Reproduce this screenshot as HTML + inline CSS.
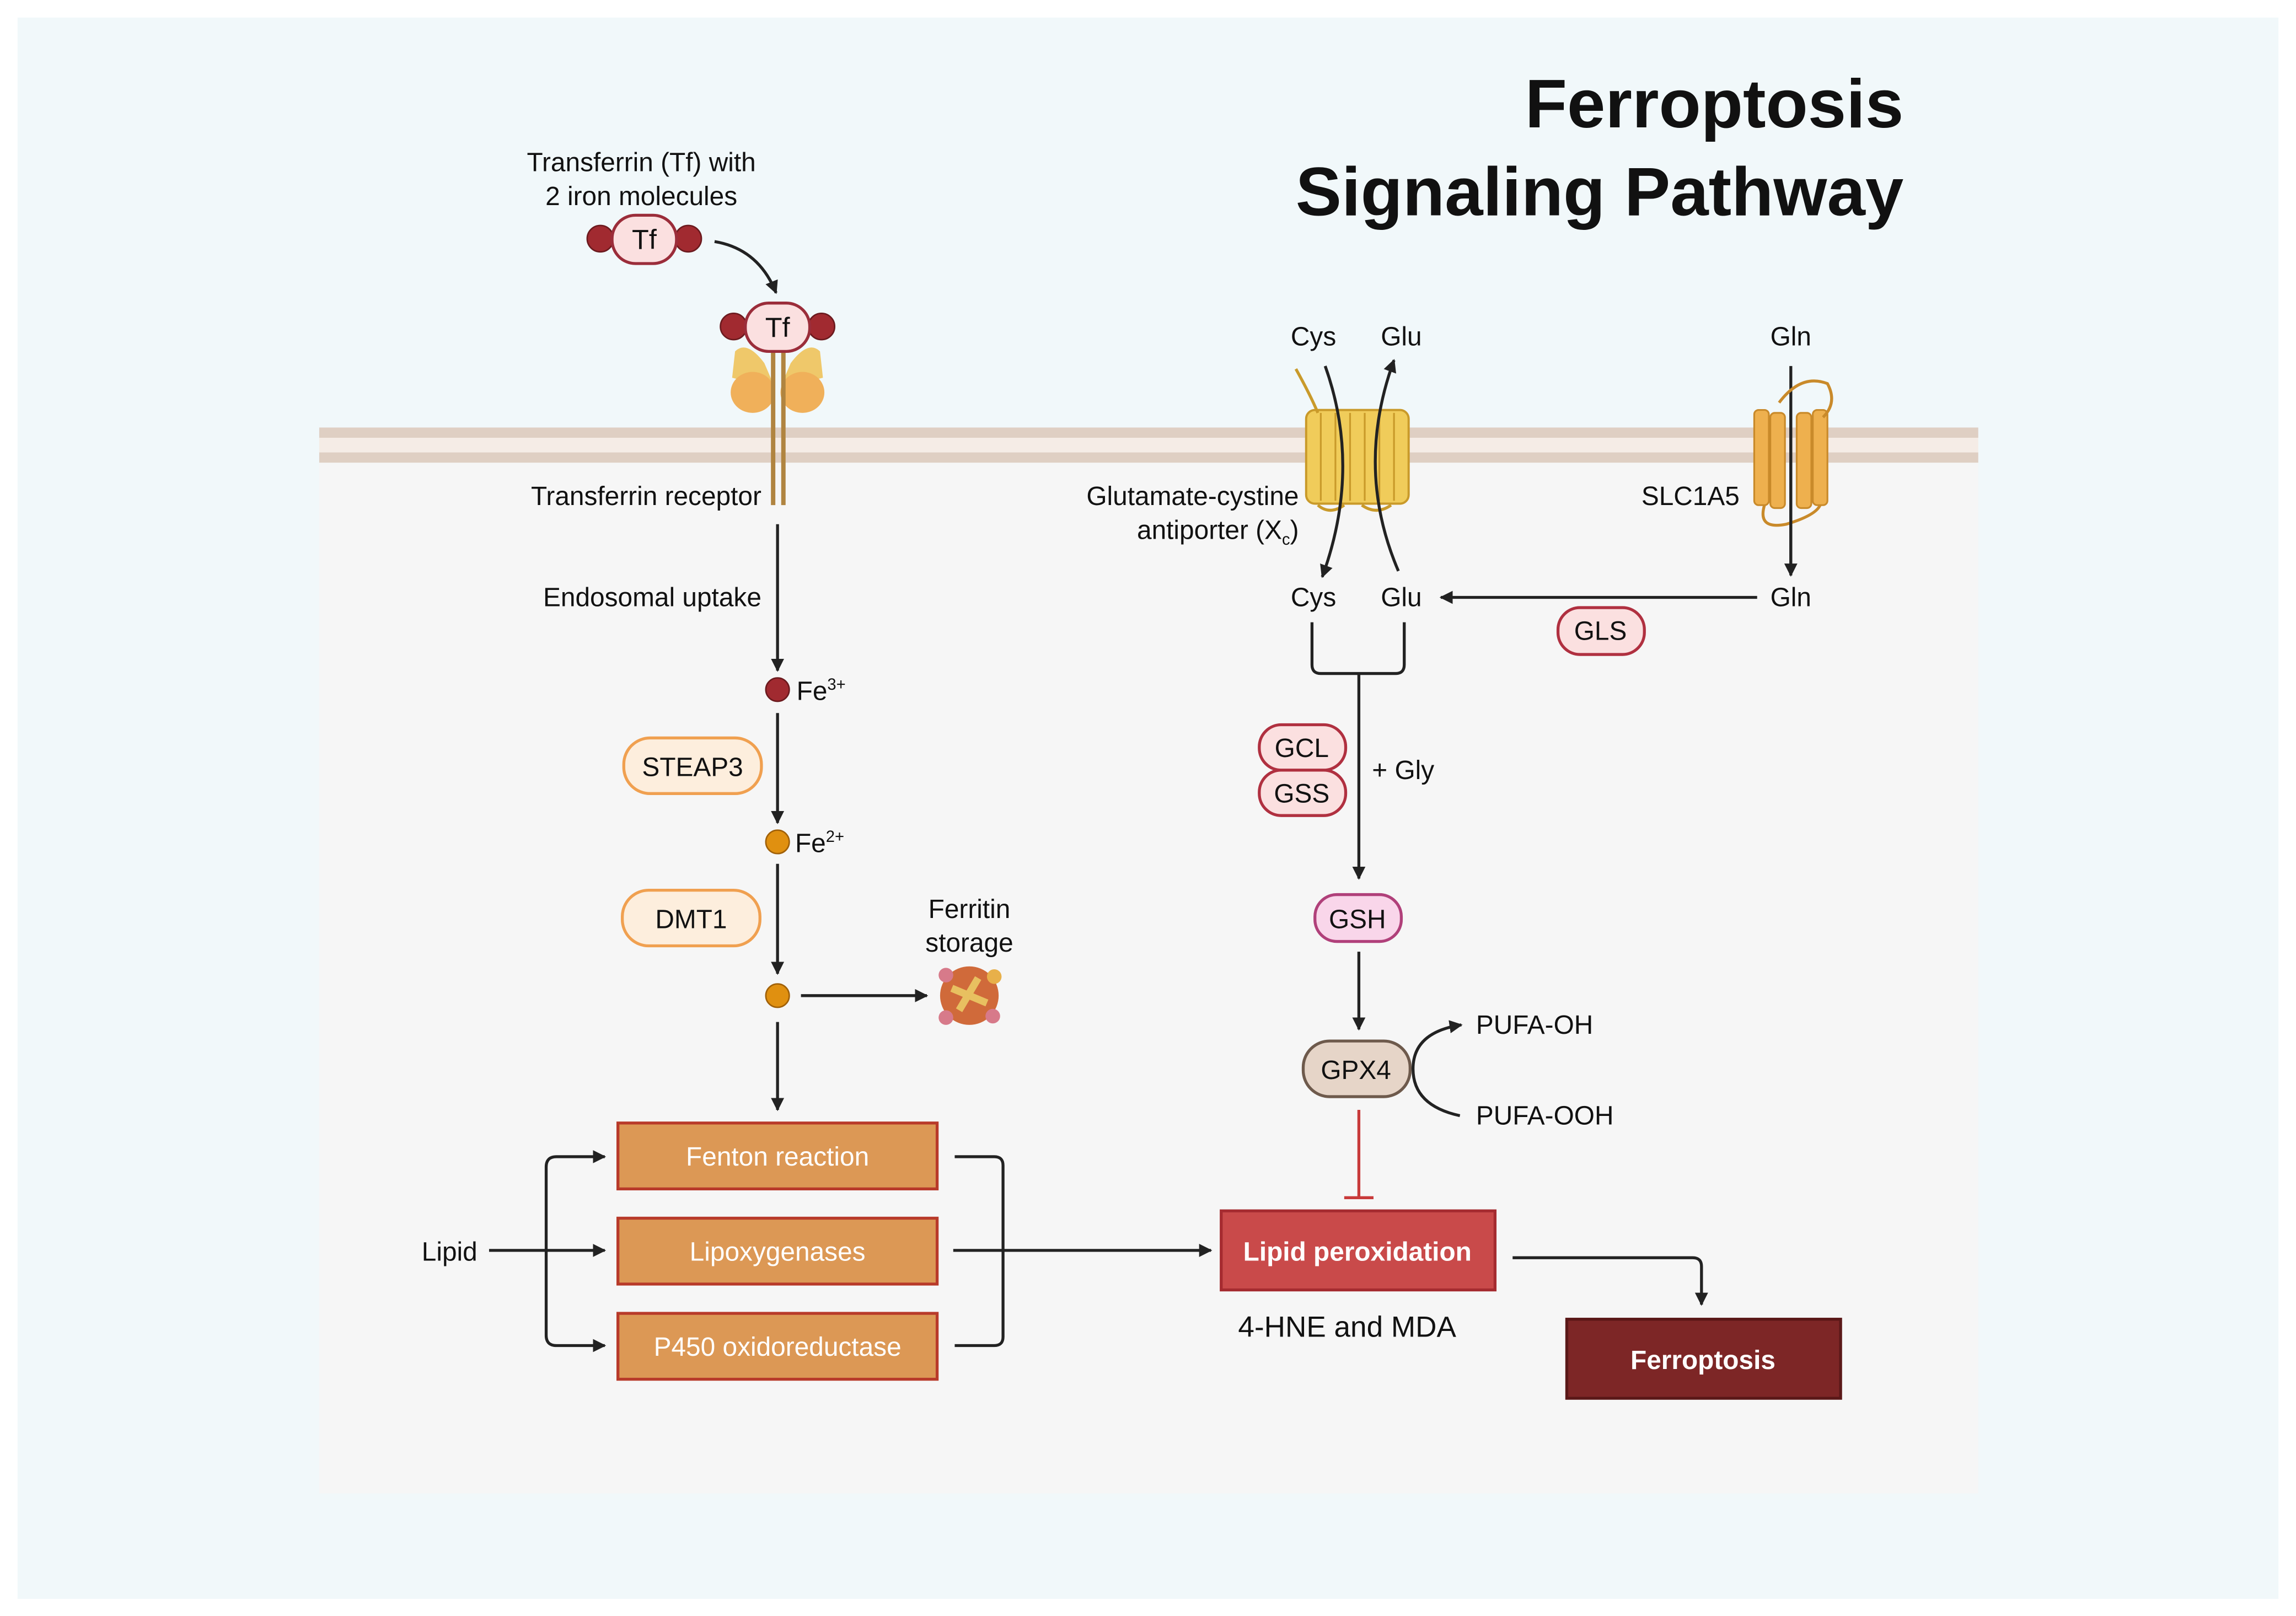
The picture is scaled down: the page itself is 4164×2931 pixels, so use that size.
<!DOCTYPE html>
<html><head><meta charset="utf-8"><style>
html,body{margin:0;padding:0;background:#fff}
svg{display:block}
text{font-family:"Liberation Sans",sans-serif;fill:#111}
text.w{fill:#fff}
</style></head><body>
<svg width="4164" height="2931" viewBox="0 0 1568 1103.7" preserveAspectRatio="none" xmlns="http://www.w3.org/2000/svg">
<defs>
<marker id="ah" viewBox="0 0 10 10" refX="9" refY="5" markerWidth="4.5" markerHeight="4.5" orient="auto"><path d="M0,0 L10,5 L0,10 Z" fill="#222"/></marker>
</defs>
<rect width="1568" height="1104" fill="#fff"/>
<rect x="12" y="12" width="1544" height="1080" fill="#f1f8fa"/>
<rect x="218" y="316" width="1133" height="704" fill="#f6f6f6"/>
<rect x="218" y="292" width="1133" height="7" fill="#dfcfc3"/>
<rect x="218" y="299" width="1133" height="10" fill="#f5ece6"/>
<rect x="218" y="309" width="1133" height="7" fill="#dfcfc3"/>

<text x="1300" y="87" text-anchor="end" font-size="47" font-weight="bold">Ferroptosis</text>
<text x="1300" y="147" text-anchor="end" font-size="47" font-weight="bold">Signaling Pathway</text>

<g font-size="18">
<text x="438" y="117" text-anchor="middle">Transferrin (Tf) with</text>
<text x="438" y="140" text-anchor="middle">2 iron molecules</text>
</g>
<!-- Tf 1 -->
<circle cx="410" cy="163" r="9" fill="#a12a30" stroke="#6b1a1e"/>
<circle cx="470" cy="163" r="9" fill="#a12a30" stroke="#6b1a1e"/>
<rect x="418" y="147" width="44" height="33" rx="16" fill="#fbe0e0" stroke="#9b2d3a" stroke-width="2"/>
<text x="440" y="170" text-anchor="middle" font-size="19">Tf</text>
<path d="M488,165 Q518,170 530,200" fill="none" stroke="#222" stroke-width="2" marker-end="url(#ah)"/>
<!-- receptor -->
<path d="M502,240 Q510,232 522,248 L528,262 Q515,262 500,258 Z" fill="#efc86a"/>
<path d="M560,240 Q552,232 540,248 L534,262 Q547,262 562,258 Z" fill="#efc86a"/>
<ellipse cx="514" cy="268" rx="15" ry="14" fill="#f0b05a"/>
<ellipse cx="548" cy="268" rx="15" ry="14" fill="#f0b05a"/>
<path d="M528,240 L528,345 M535,240 L535,345" stroke="#b08440" stroke-width="3"/>
<!-- Tf 2 -->
<circle cx="501" cy="223" r="9" fill="#a12a30" stroke="#6b1a1e"/>
<circle cx="561" cy="223" r="9" fill="#a12a30" stroke="#6b1a1e"/>
<rect x="509" y="207" width="44" height="33" rx="16" fill="#fbe0e0" stroke="#9b2d3a" stroke-width="2"/>
<text x="531" y="230" text-anchor="middle" font-size="19">Tf</text>

<g font-size="18">
<text x="520" y="345" text-anchor="end">Transferrin receptor</text>
<text x="520" y="414" text-anchor="end">Endosomal uptake</text>
</g>
<g stroke="#222" stroke-width="2" fill="none" marker-end="url(#ah)">
<line x1="531" y1="358" x2="531" y2="458"/>
<line x1="531" y1="487" x2="531" y2="562"/>
<line x1="531" y1="590" x2="531" y2="665"/>
<line x1="547" y1="680" x2="633" y2="680"/>
<line x1="531" y1="698" x2="531" y2="758"/>
<line x1="334" y1="854" x2="413" y2="854"/>
<path d="M373,854 L373,797 Q373,790 380,790 L413,790"/>
<path d="M373,854 L373,912 Q373,919 380,919 L413,919"/>
<line x1="651" y1="854" x2="827" y2="854"/>
<path d="M1033,859 L1156,859 Q1162,859 1162,865 L1162,891"/>
<line x1="1223" y1="250" x2="1223" y2="393"/>
<line x1="1200" y1="408" x2="984" y2="408"/>
<line x1="928" y1="460" x2="928" y2="600"/>
<line x1="928" y1="650" x2="928" y2="703"/>
<path d="M997,762 Q965,755 965,730 Q965,705 998,700"/>
</g>
<path d="M652,790 L679,790 Q685,790 685,796 L685,913 Q685,919 679,919 L652,919" fill="none" stroke="#222" stroke-width="2"/>
<circle cx="531" cy="471" r="8" fill="#a12a30" stroke="#6b1a1e"/>
<text x="544" y="478" font-size="18">Fe<tspan font-size="11" dy="-7">3+</tspan></text>
<circle cx="531" cy="575" r="8" fill="#e09010" stroke="#a06008"/>
<text x="543" y="582" font-size="18">Fe<tspan font-size="11" dy="-7">2+</tspan></text>
<circle cx="531" cy="680" r="8" fill="#e09010" stroke="#a06008"/>
<rect x="426" y="504" width="94" height="38" rx="18" fill="#fdeedd" stroke="#f0a050" stroke-width="2"/>
<text x="473" y="530" text-anchor="middle" font-size="18">STEAP3</text>
<rect x="425" y="608" width="94" height="38" rx="18" fill="#fdeedd" stroke="#f0a050" stroke-width="2"/>
<text x="472" y="634" text-anchor="middle" font-size="18">DMT1</text>
<text x="662" y="627" text-anchor="middle" font-size="18">Ferritin</text>
<text x="662" y="650" text-anchor="middle" font-size="18">storage</text>
<g>
<circle cx="662" cy="680" r="20" fill="#d06a3a"/>
<circle cx="646" cy="666" r="5" fill="#d77a8a"/><circle cx="678" cy="694" r="5" fill="#d77a8a"/>
<circle cx="646" cy="695" r="5" fill="#d77a8a"/><circle cx="679" cy="667" r="5" fill="#e8b04a"/>
<path d="M650,675 L674,685 M655,690 L668,668" stroke="#e8c060" stroke-width="5"/>
</g>

<!-- enzyme boxes -->
<g stroke="#b83a2a" stroke-width="2" fill="#dc9855">
<rect x="422" y="767" width="218" height="45"/>
<rect x="422" y="832" width="218" height="45"/>
<rect x="422" y="897" width="218" height="45"/>
</g>
<g font-size="18" text-anchor="middle">
<text class="w" x="531" y="796">Fenton reaction</text>
<text class="w" x="531" y="861">Lipoxygenases</text>
<text class="w" x="531" y="926">P450 oxidoreductase</text>
</g>
<text x="307" y="861" text-anchor="middle" font-size="18">Lipid</text>

<rect x="834" y="827" width="187" height="54" fill="#c94a4a" stroke="#a52b30" stroke-width="2"/>
<text class="w" x="927" y="861" text-anchor="middle" font-size="18" font-weight="bold">Lipid peroxidation</text>
<text x="920" y="913" text-anchor="middle" font-size="20">4-HNE and MDA</text>
<rect x="1070" y="901" width="187" height="54" fill="#7d2626" stroke="#5a1818" stroke-width="2"/>
<text class="w" x="1163" y="935" text-anchor="middle" font-size="18" font-weight="bold">Ferroptosis</text>

<!-- Xc transporter -->
<rect x="892" y="280" width="70" height="64" rx="6" fill="#f0cc5a" stroke="#c99a2a" stroke-width="1.5"/>
<g stroke="#c99a2a" stroke-width="1.2"><line x1="902" y1="282" x2="902" y2="342"/><line x1="912" y1="282" x2="912" y2="342"/><line x1="922" y1="282" x2="922" y2="342"/><line x1="932" y1="282" x2="932" y2="342"/><line x1="942" y1="282" x2="942" y2="342"/><line x1="952" y1="282" x2="952" y2="342"/></g>
<path d="M885,252 Q895,270 900,282" fill="none" stroke="#c99a2a" stroke-width="2"/>
<path d="M900,345 Q908,352 918,345 M930,345 Q940,352 950,345" fill="none" stroke="#c99a2a" stroke-width="2"/>
<g stroke="#222" stroke-width="2" fill="none" marker-end="url(#ah)">
<path d="M905,250 Q930,320 903,394"/>
<path d="M955,390 Q925,320 952,246"/>
</g>
<g font-size="18">
<text x="897" y="236" text-anchor="middle">Cys</text>
<text x="957" y="236" text-anchor="middle">Glu</text>
<text x="1223" y="236" text-anchor="middle">Gln</text>
<text x="897" y="414" text-anchor="middle">Cys</text>
<text x="957" y="414" text-anchor="middle">Glu</text>
<text x="1223" y="414" text-anchor="middle">Gln</text>
<text x="887" y="345" text-anchor="end">Glutamate-cystine</text>
<text x="887" y="368" text-anchor="end">antiporter (X<tspan font-size="11" dy="4">c</tspan><tspan dy="-4">)</tspan></text>
<text x="1188" y="345" text-anchor="end">SLC1A5</text>
<text x="937" y="532">+ Gly</text>
<text x="1008" y="706">PUFA-OH</text>
<text x="1008" y="768">PUFA-OOH</text>
</g>
<!-- SLC1A5 -->
<g fill="#eeb04e" stroke="#c98a2a" stroke-width="1.2">
<rect x="1198" y="280" width="10" height="65" rx="3"/><rect x="1209" y="282" width="10" height="65" rx="3"/>
<rect x="1227" y="282" width="10" height="65" rx="3"/><rect x="1238" y="280" width="10" height="65" rx="3"/>
</g>
<path d="M1215,275 Q1230,255 1248,262 Q1255,275 1245,285 M1205,345 Q1200,362 1220,358 Q1240,352 1243,345" fill="none" stroke="#c98a2a" stroke-width="2"/>
<line x1="1223" y1="280" x2="1223" y2="390" stroke="#222" stroke-width="2"/>

<rect x="1064" y="415" width="59" height="32" rx="15" fill="#fbe0e0" stroke="#b03040" stroke-width="2"/>
<text x="1093" y="437" text-anchor="middle" font-size="18">GLS</text>
<path d="M896,425 L896,454 Q896,460 902,460 L953,460 Q959,460 959,454 L959,425" fill="none" stroke="#222" stroke-width="2"/>
<rect x="860" y="495" width="59" height="31" rx="15" fill="#fbe0e0" stroke="#b03040" stroke-width="2"/>
<text x="889" y="517" text-anchor="middle" font-size="18">GCL</text>
<rect x="860" y="526" width="59" height="31" rx="15" fill="#fbe0e0" stroke="#b03040" stroke-width="2"/>
<text x="889" y="548" text-anchor="middle" font-size="18">GSS</text>
<rect x="898" y="611" width="59" height="32" rx="15" fill="#f9d6ea" stroke="#b0407a" stroke-width="2"/>
<text x="927" y="634" text-anchor="middle" font-size="18">GSH</text>
<rect x="890" y="711" width="73" height="38" rx="18" fill="#e6d5c8" stroke="#6e5a4c" stroke-width="2"/>
<text x="926" y="737" text-anchor="middle" font-size="18">GPX4</text>
<line x1="928" y1="758" x2="928" y2="818" stroke="#c83a3a" stroke-width="2"/>
<line x1="918" y1="818" x2="938" y2="818" stroke="#c83a3a" stroke-width="2"/>
</svg>
</body></html>
